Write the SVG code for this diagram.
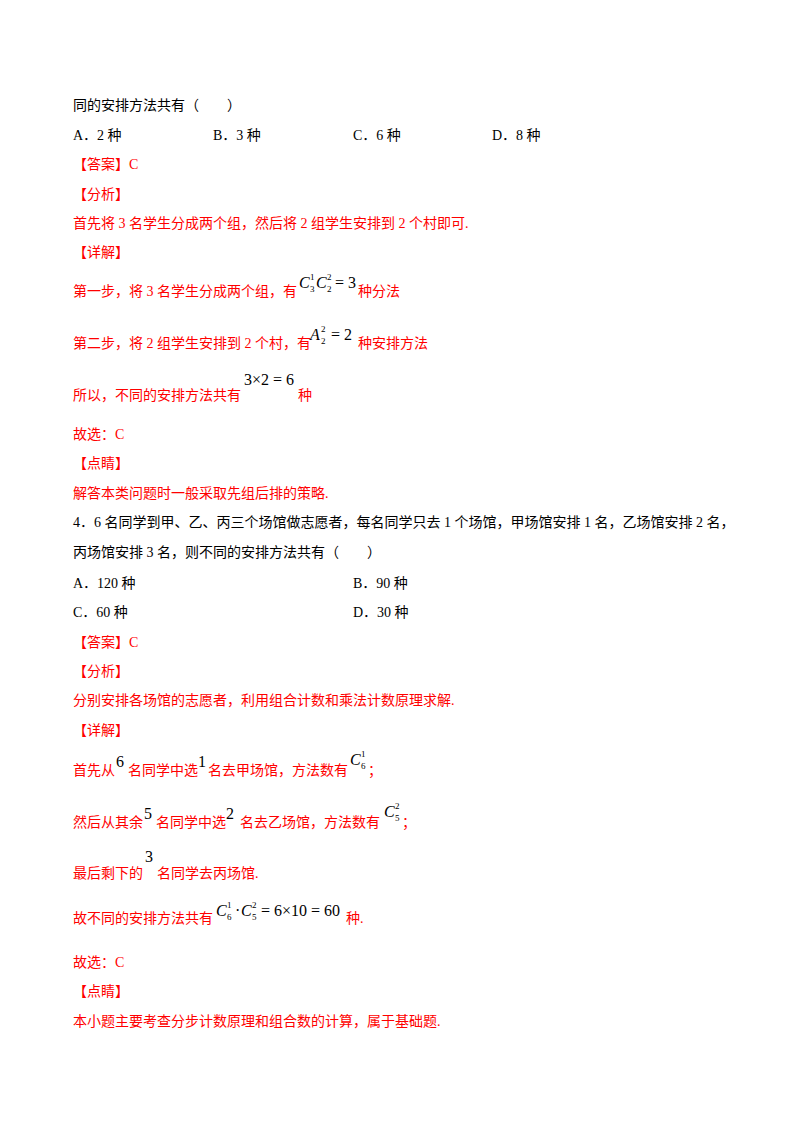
<svg xmlns="http://www.w3.org/2000/svg" width="800" height="1132" viewBox="0 0 800 1132">
<style>
text{font-family:"Liberation Serif","Noto Sans CJK SC",serif;font-size:14px;fill:#000}
.r{fill:#f00}
.m{font-family:"Liberation Serif",serif;font-size:16px;fill:#000}
.mi{font-family:"Liberation Serif",serif;font-size:16px;font-style:italic;fill:#000}
.s{font-family:"Liberation Serif",serif;font-size:9px;fill:#000}
</style>
<rect width="800" height="1132" fill="#fff"/>
<text x="73" y="110">同的安排方法共有（　　）</text>
<text x="73" y="140">A．2 种</text>
<text x="213" y="140">B．3 种</text>
<text x="353" y="140">C．6 种</text>
<text x="492" y="140">D．8 种</text>
<text x="73" y="169" class="r">【答案】C</text>
<text x="73" y="199" class="r">【分析】</text>
<text x="73" y="228" class="r">首先将 3 名学生分成两个组，然后将 2 组学生安排到 2 个村即可.</text>
<text x="73" y="257" class="r">【详解】</text>
<text x="73" y="296" class="r">第一步，将 3 名学生分成两个组，有</text>
<text x="299" y="288" class="mi">C</text><text x="310" y="280" class="s">1</text><text x="310" y="292" class="s">3</text>
<text x="316" y="288" class="mi">C</text><text x="327" y="280" class="s">2</text><text x="327" y="292" class="s">2</text>
<text x="335" y="288" class="m">= 3</text>
<text x="358" y="296" class="r">种分法</text>
<text x="73" y="348" class="r">第二步，将 2 组学生安排到 2 个村，有</text>
<text x="310" y="340" class="mi">A</text><text x="321" y="332" class="s">2</text><text x="321" y="344" class="s">2</text>
<text x="331" y="340" class="m">= 2</text>
<text x="358" y="348" class="r">种安排方法</text>
<text x="73" y="400" class="r">所以，不同的安排方法共有</text>
<text x="244" y="385" class="m">3×2 = 6</text>
<text x="298" y="400" class="r">种</text>
<text x="73" y="439" class="r">故选：C</text>
<text x="73" y="468" class="r">【点睛】</text>
<text x="73" y="498" class="r">解答本类问题时一般采取先组后排的策略.</text>
<text x="73" y="527">4．6 名同学到甲、乙、丙三个场馆做志愿者，每名同学只去 1 个场馆，甲场馆安排 1 名，乙场馆安排 2 名，</text>
<text x="73" y="557">丙场馆安排 3 名，则不同的安排方法共有（　　）</text>
<text x="73" y="588">A．120 种</text>
<text x="353" y="588">B．90 种</text>
<text x="73" y="617">C．60 种</text>
<text x="353" y="617">D．30 种</text>
<text x="73" y="647" class="r">【答案】C</text>
<text x="73" y="676" class="r">【分析】</text>
<text x="73" y="705" class="r">分别安排各场馆的志愿者，利用组合计数和乘法计数原理求解.</text>
<text x="73" y="735" class="r">【详解】</text>
<text x="73" y="775" class="r">首先从</text>
<text x="116" y="767" class="m">6</text>
<text x="128" y="775" class="r">名同学中选</text>
<text x="198" y="767" class="m">1</text>
<text x="208" y="775" class="r">名去甲场馆，方法数有</text>
<text x="350" y="765" class="mi">C</text><text x="361" y="757" class="s">1</text><text x="361" y="769" class="s">6</text>
<text x="368" y="775" class="r">；</text>
<text x="73" y="827" class="r">然后从其余</text>
<text x="144" y="819" class="m">5</text>
<text x="156" y="827" class="r">名同学中选</text>
<text x="226" y="819" class="m">2</text>
<text x="240" y="827" class="r">名去乙场馆，方法数有</text>
<text x="384" y="817" class="mi">C</text><text x="395" y="809" class="s">2</text><text x="395" y="821" class="s">5</text>
<text x="402" y="827" class="r">；</text>
<text x="73" y="878" class="r">最后剩下的</text>
<text x="145" y="862" class="m">3</text>
<text x="157" y="878" class="r">名同学去丙场馆.</text>
<text x="73" y="923" class="r">故不同的安排方法共有</text>
<text x="216" y="916" class="mi">C</text><text x="227" y="908" class="s">1</text><text x="227" y="920" class="s">6</text>
<text x="235" y="916" class="m">·</text>
<text x="241" y="916" class="mi">C</text><text x="252" y="908" class="s">2</text><text x="252" y="920" class="s">5</text>
<text x="261" y="916" class="m">= 6×10 = 60</text>
<text x="346" y="923" class="r">种.</text>
<text x="73" y="967" class="r">故选：C</text>
<text x="73" y="996" class="r">【点睛】</text>
<text x="73" y="1026" class="r">本小题主要考查分步计数原理和组合数的计算，属于基础题.</text>
</svg>
